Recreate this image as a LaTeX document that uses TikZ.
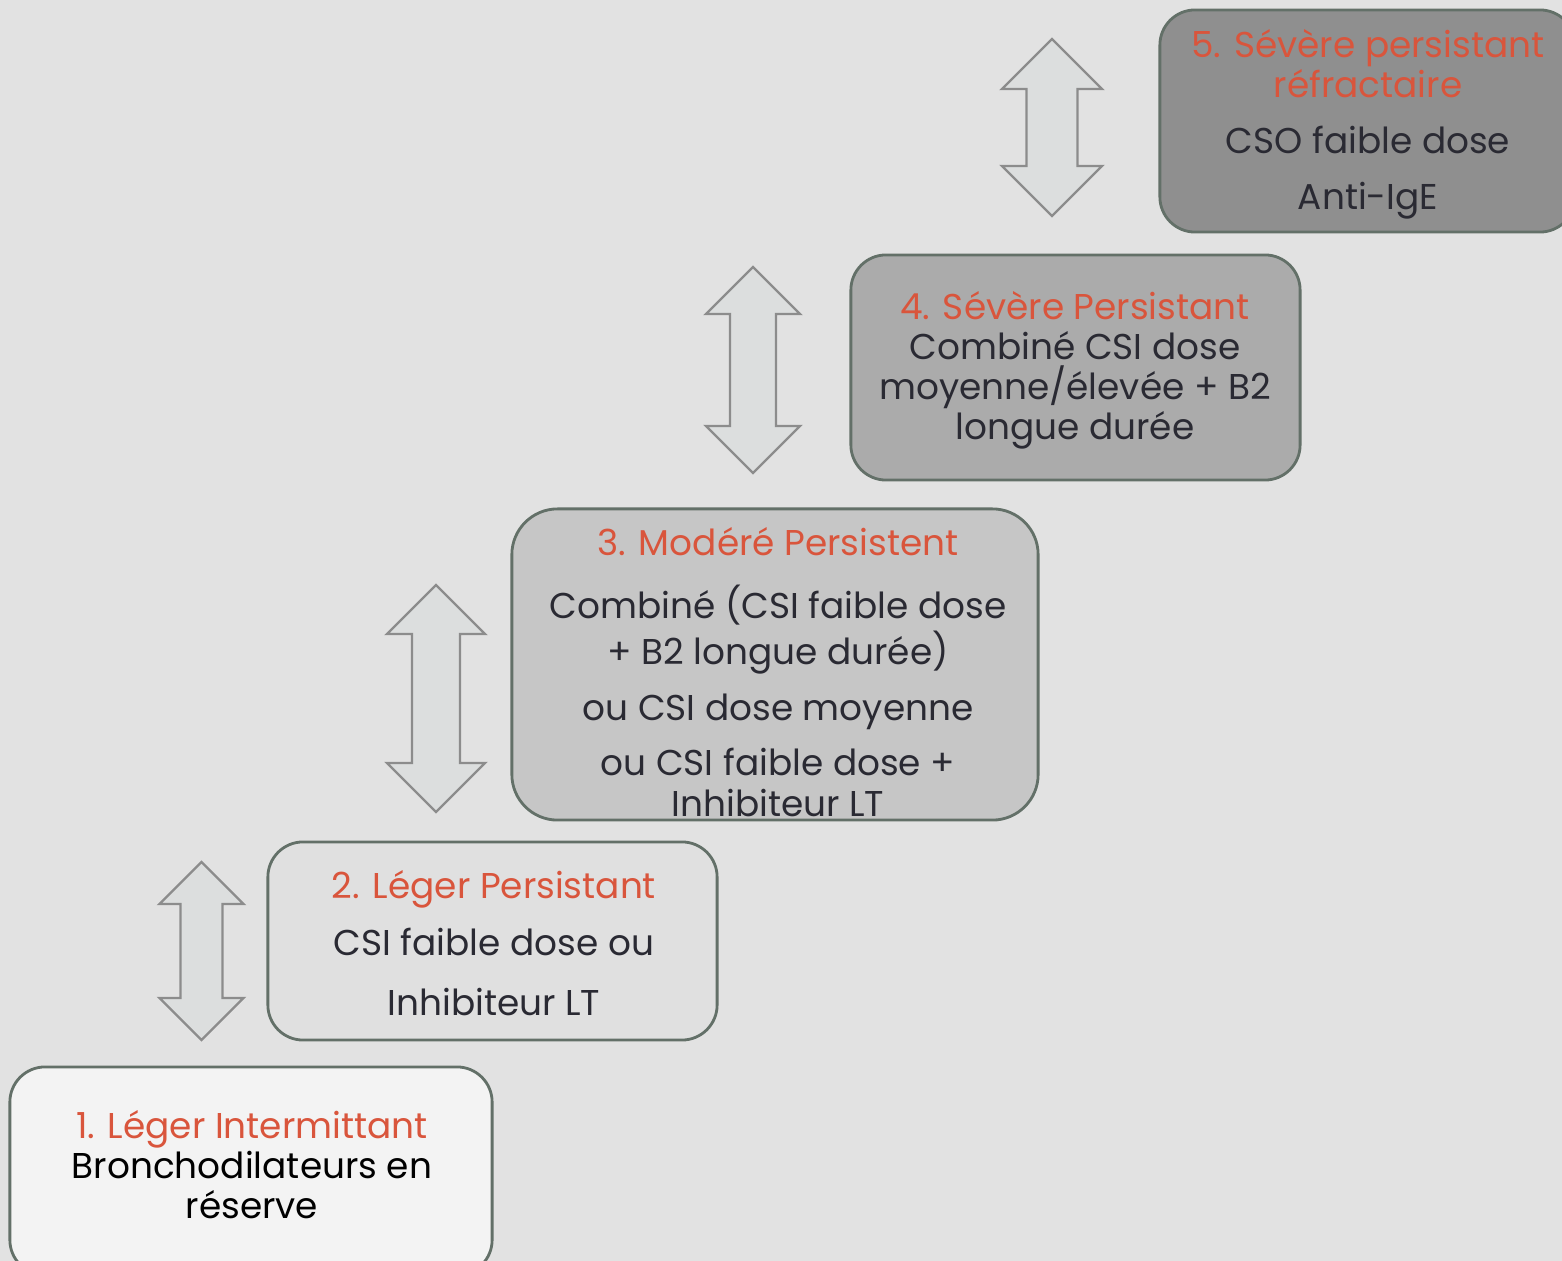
\documentclass[tikz,border=0pt]{standalone}
\usepackage{fontspec}
\setmainfont{Poppins}
\usetikzlibrary{positioning}

\definecolor{paper}{HTML}{E2E2E2}
\definecolor{frame}{HTML}{637068}
\definecolor{redtitle}{HTML}{D9553C}
\definecolor{inktext}{HTML}{2A2A33}
\definecolor{arrowfill}{HTML}{DCDEDE}
\definecolor{arrowline}{HTML}{8C8C8C}
\definecolor{fillone}{HTML}{F3F3F3}
\definecolor{filltwo}{HTML}{E0E0E0}
\definecolor{fillthree}{HTML}{C6C6C6}
\definecolor{fillfour}{HTML}{ABABAB}
\definecolor{fillfive}{HTML}{8F8F8F}

\newcommand{\ttl}[1]{{\color{redtitle}#1}}

\begin{document}
\begin{tikzpicture}[x=0.01cm,y=-0.01cm,
    stepbox/.style={draw=frame, line width=0.8pt},
    steptext/.style={align=center, text=inktext, inner sep=0pt,
      font=\fontsize{10.2}{11.4}\selectfont},
    updown/.style={draw=arrowline, fill=arrowfill, line width=0.7pt, line join=miter}]
  \fill[paper] (0,0) rectangle (1562,1261);
  \clip (0,0) rectangle (1562,1261);

  % steps: name/cx/cy/width/height/corner/fill
  \foreach \n/\cx/\cy/\w/\h/\r/\c in {step1/251/1171/4.82/2.08/10/fillone,
      step2/492.5/941/4.49/1.98/10/filltwo, step3/775/664.5/5.26/3.11/13/fillthree,
      step4/1075.5/367.5/4.49/2.25/10/fillfour, step5/1367.5/121/4.15/2.22/10/fillfive}
    \node[stepbox, fill=\c, rounded corners=\r pt, minimum width=\w cm, minimum height=\h cm] (\n) at (\cx,\cy) {};

  \node[steptext, text=black] (txt1) at (252,1165)
    {\ttl{1. Léger Intermittant}\\Bronchodilateurs en\\réserve};
  \node[steptext] (txt2) at (494,943)
    {\ttl{2. Léger Persistant}\\[5pt]CSI faible dose ou\\[5.5pt]Inhibiteur LT};
  \node[steptext] (txt3) at (778,672)
    {\ttl{3. Modéré Persistent}\\[6.5pt]Combiné (CSI faible dose\\[0.5pt]+ B2 longue durée)\\[4.5pt]ou CSI dose moyenne\\[4.5pt]ou CSI faible dose +\\Inhibiteur LT};
  \node[steptext] (txt4) at (1075,370)
    {\ttl{4. Sévère Persistant}\\Combiné CSI dose\\moyenne/élevée + B2\\longue durée};
  \node[steptext] (txt5) at (1368,124)
    {\ttl{5. Sévère persistant}\\\ttl{réfractaire}\\[4.5pt]CSO faible dose\\[4.5pt]Anti-IgE};

  % double arrows between steps: cx/top/bottom/half width/half shaft
  \foreach \cx/\ta/\tb/\hw/\sw in {201.5/862/1040/42/21, 436/585/812/49/24,
      753/267/473/47/23, 1052/39/216/50/25.5}
    \draw[updown] (\cx,\ta) -- (\cx+\hw,\ta+\hw) -- (\cx+\sw,\ta+\hw) -- (\cx+\sw,\tb-\hw)
      -- (\cx+\hw,\tb-\hw) -- (\cx,\tb) -- (\cx-\hw,\tb-\hw) -- (\cx-\sw,\tb-\hw)
      -- (\cx-\sw,\ta+\hw) -- (\cx-\hw,\ta+\hw) -- cycle;
\end{tikzpicture}
\end{document}
